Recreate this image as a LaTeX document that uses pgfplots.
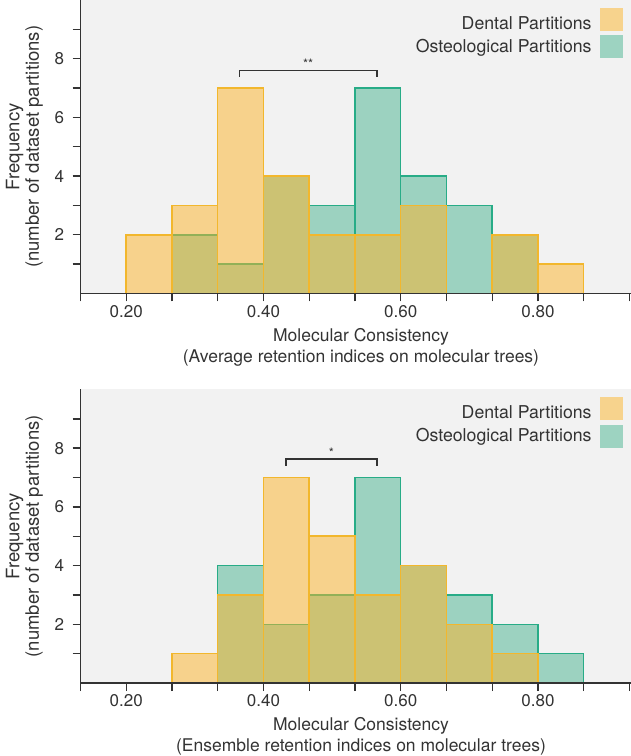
\documentclass[border=0pt]{standalone}
\usepackage{fontspec}
\setmainfont{TeX Gyre Heros}
\usepackage{pgfplots}
\pgfplotsset{compat=1.18}
\definecolor{bggray}{RGB}{242,242,242}
\definecolor{txt}{RGB}{51,51,51}
\definecolor{dentbase}{RGB}{252,180,40}
\definecolor{ostbase}{RGB}{72,180,144}
\definecolor{dentedge}{RGB}{242,183,45}
\definecolor{ostedge}{RGB}{40,172,135}
\definecolor{dentlegend}{RGB}{247,211,141}
\definecolor{ostlegend}{RGB}{157,211,193}
\tikzset{bracket/.style={txt, line width=1.8pt}}
\pgfplotsset{
 histaxis/.style={
  scale only axis, width=550.5pt, height=293.5pt,
  xmin=0.13333, xmax=0.9356, ymin=0, ymax=10,
  axis lines*=left, axis on top,
  axis line style={txt, line width=1.8pt},
  axis background/.style={fill=bggray},
  tick align=outside, major tick length=8pt,
  every tick/.style={txt, line width=1.4pt},
  xtick={0.13333,0.2,0.26667,0.33333,0.4,0.46667,0.53333,0.6,0.66667,0.73333,0.8,0.86667,0.93333},
  xticklabels={,0.20,,,0.40,,,0.60,,,0.80,,},
  ytick={1,2,3,4,5,6,7,8,9}, yticklabels={,2,,4,,6,,8,},
  tick label style={font=\fontsize{17}{20}\selectfont, text=txt},
  yticklabel style={xshift=-5pt},
  xlabel style={font=\fontsize{17.5}{21}\selectfont, text=txt, align=center, anchor=center},
  ylabel style={font=\fontsize{18.5}{19.5}\selectfont, text=txt, align=center,
    at={(axis description cs:-0.102,0.5)}, anchor=center},
  ylabel={Frequency\\(number of dataset partitions)},
  legend style={at={(rel axis cs:1,1)}, anchor=north east, xshift=-9pt, yshift=-8pt,
    draw=none, fill=none, inner sep=0pt, outer sep=0pt, row sep=4pt, column sep=0pt,
    nodes={inner sep=0pt, text=txt, font=\fontsize{17.7}{20}\selectfont}},
  legend cell align=right, legend plot pos=right,
 },
 ost/.style={ybar interval, fill=ostbase, fill opacity=0.5, draw=ostedge, line width=1.5pt, forget plot},
 dent/.style={ybar interval, fill=dentbase, fill opacity=0.5, draw=dentedge, line width=1.5pt, forget plot},
 legentries/.code={
  \addlegendimage{legend image code/.code={\path (0pt,0pt); \fill[dentlegend] (8pt,-6.4pt) rectangle (30pt,15.6pt);}}
  \addlegendentry{Dental Partitions}
  \addlegendimage{legend image code/.code={\path (0pt,0pt); \fill[ostlegend] (8pt,-11pt) rectangle (30pt,11pt);}}
  \addlegendentry{Osteological Partitions}
 },
}
\begin{document}
\begin{tikzpicture}
\useasboundingbox (0,0) rectangle (631pt,756pt);
% ---------- top panel ----------
\begin{axis}[histaxis, at={(80.5pt,462.5pt)}, anchor=south west,
  xlabel style={at={(axis description cs:0.5095,-0.1835)}},
  xlabel={Molecular Consistency\\(Average retention indices on molecular trees)}]
\addlegendimage{legend image code/.code={\path (0pt,0pt); \fill[dentlegend] (8pt,-6.4pt) rectangle (30pt,15.6pt);}}
\addlegendentry{Dental Partitions}
\addlegendimage{legend image code/.code={\path (0pt,0pt); \fill[ostlegend] (8pt,-11pt) rectangle (30pt,11pt);}}
\addlegendentry{Osteological Partitions}
% Osteological
\addplot[ost] coordinates {(0.26667,2) (0.33333,1) (0.4,4) (0.46667,3) (0.53333,7) (0.6,4) (0.66667,3) (0.73333,2) (0.8,0)};
% Dental
\addplot[dent] coordinates {(0.2,2) (0.26667,3) (0.33333,7) (0.4,4) (0.46667,2) (0.53333,2) (0.6,3) (0.66667,0)};
\addplot[dent] coordinates {(0.73333,2) (0.8,1) (0.86667,0)};
\draw[bracket] (axis cs:0.365,7.38) -- (axis cs:0.365,7.6) -- (axis cs:0.565,7.6) -- (axis cs:0.565,7.38);
\node[text=txt, font=\fontsize{13}{13}\selectfont] at (axis cs:0.465,7.84) {**};
\end{axis}
% ---------- bottom panel ----------
\begin{axis}[histaxis, at={(80.5pt,73pt)}, anchor=south west,
  xlabel style={at={(axis description cs:0.5095,-0.182)}},
  xlabel={Molecular Consistency\\(Ensemble retention indices on molecular trees)}]
\addlegendimage{legend image code/.code={\path (0pt,0pt); \fill[dentlegend] (8pt,-6.4pt) rectangle (30pt,15.6pt);}}
\addlegendentry{Dental Partitions}
\addlegendimage{legend image code/.code={\path (0pt,0pt); \fill[ostlegend] (8pt,-11pt) rectangle (30pt,11pt);}}
\addlegendentry{Osteological Partitions}
% Osteological
\addplot[ost] coordinates {(0.33333,4) (0.4,2) (0.46667,3) (0.53333,7) (0.6,4) (0.66667,3) (0.73333,2) (0.8,1) (0.86667,0)};
% Dental
\addplot[dent] coordinates {(0.26667,1) (0.33333,3) (0.4,7) (0.46667,5) (0.53333,3) (0.6,4) (0.66667,2) (0.73333,1) (0.8,0)};
\draw[bracket] (axis cs:0.433,7.41) -- (axis cs:0.433,7.62) -- (axis cs:0.565,7.62) -- (axis cs:0.565,7.41);
\node[text=txt, font=\fontsize{13}{13}\selectfont] at (axis cs:0.499,7.85) {*};
\end{axis}
\end{tikzpicture}
\end{document}
